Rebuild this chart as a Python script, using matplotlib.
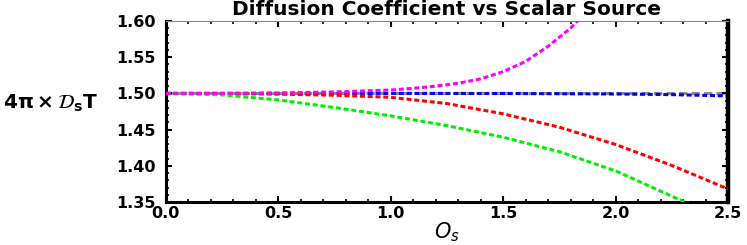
import matplotlib
matplotlib.use("Agg")
import matplotlib.pyplot as plt
from matplotlib.ticker import MultipleLocator

plt.rcParams['lines.scale_dashes'] = False

# data
x_gray = [0.0, 2.5]
y_gray = [1.50, 1.50]

x_blue = [0.0, 0.5, 1.0, 1.5, 2.0, 2.25, 2.5]
y_blue = [1.5000, 1.5000, 1.5000, 1.4999, 1.4992, 1.4983, 1.4965]

x_red = [0.0, 0.25, 0.5, 0.75, 1.0, 1.25, 1.5, 1.75, 2.0, 2.25, 2.5]
y_red = [1.5000, 1.4998, 1.4990, 1.4975, 1.4946, 1.4860, 1.4718, 1.4533, 1.4295, 1.4005, 1.3680]

x_green = [0.0, 0.25, 0.5, 0.75, 1.0, 1.25, 1.5, 1.75, 2.0, 2.25, 2.5]
y_green = [1.5000, 1.4980, 1.4910, 1.4805, 1.4690, 1.4555, 1.4395, 1.4195, 1.3930, 1.3580, 1.3250]

x_mag = [0.0, 0.25, 0.5, 0.75, 1.0, 1.1, 1.2, 1.3, 1.4, 1.5, 1.6, 1.7, 1.8, 1.85]
y_mag = [1.5000, 1.5001, 1.5006, 1.5020, 1.5047, 1.5070, 1.5100, 1.5140, 1.5200, 1.5300, 1.5440, 1.5650, 1.5900, 1.6060]

xticks = [0.0, 0.5, 1.0, 1.5, 2.0, 2.5]
yticks = [1.35, 1.40, 1.45, 1.50, 1.55, 1.60]

fig = plt.figure(figsize=(7.47, 2.45), dpi=100)
ax = fig.add_axes([0.2216, 0.1755, 0.9746 - 0.2216, 0.9143 - 0.1755])

ax.plot(x_gray, y_gray, color='#8c8c8c', lw=2.2, dashes=(6, 3), zorder=1)
ax.plot(x_blue, y_blue, color='#0000ff', lw=2.2, dashes=(3.6, 2.0), zorder=2)
ax.plot(x_red, y_red, color='#ff0000', lw=2.2, dashes=(3.6, 2.0), zorder=3)
ax.plot(x_green, y_green, color='#00f000', lw=2.2, dashes=(3.6, 2.0), zorder=3)
ax.plot(x_mag, y_mag, color='#ff00ff', lw=2.2, dashes=(3.6, 2.0), zorder=4)

ax.set_xlim(0, 2.5)
ax.set_ylim(1.35, 1.60)
ax.set_xticks(xticks)
ax.set_yticks(yticks)
ax.set_xticklabels([f"{v:.1f}" for v in xticks])
ax.set_yticklabels([f"{v:.2f}" for v in yticks])
ax.xaxis.set_minor_locator(MultipleLocator(0.1))
ax.yaxis.set_minor_locator(MultipleLocator(0.01))
ax.tick_params(which='both', direction='in', top=True, right=True, color='black')
ax.tick_params(which='major', length=4, width=1.5)
ax.tick_params(which='minor', length=2, width=1.2)
ax.tick_params(axis='y', which='major', pad=7)
ax.tick_params(axis='x', which='major', pad=3)
for lab in ax.get_xticklabels() + ax.get_yticklabels():
    lab.set_fontfamily('DejaVu Sans')
    lab.set_fontweight('bold')
    lab.set_fontsize(11.5)

ax.spines['top'].set_color('#888888')
ax.spines['top'].set_linewidth(0.8)
for s in ['left', 'bottom']:
    ax.spines[s].set_color('black')
    ax.spines[s].set_linewidth(2.2)
ax.spines['right'].set_color('black')
ax.spines['right'].set_linewidth(3.2)

fig.text(0.598, 0.962, 'Diffusion Coefficient vs Scalar Source', ha='center', va='center',
         fontsize=14.5, fontweight='bold', family='DejaVu Sans')
fig.text(0.004, 0.58, r'$\mathbf{4\pi\times}\mathcal{D}_{\mathbf{s}}\mathbf{T}$', ha='left', va='center',
         fontsize=14.5)
fig.text(0.598, 0.028, r'$O_s$', ha='center', va='baseline', fontsize=15)

fig.savefig('out.png', dpi=100)
